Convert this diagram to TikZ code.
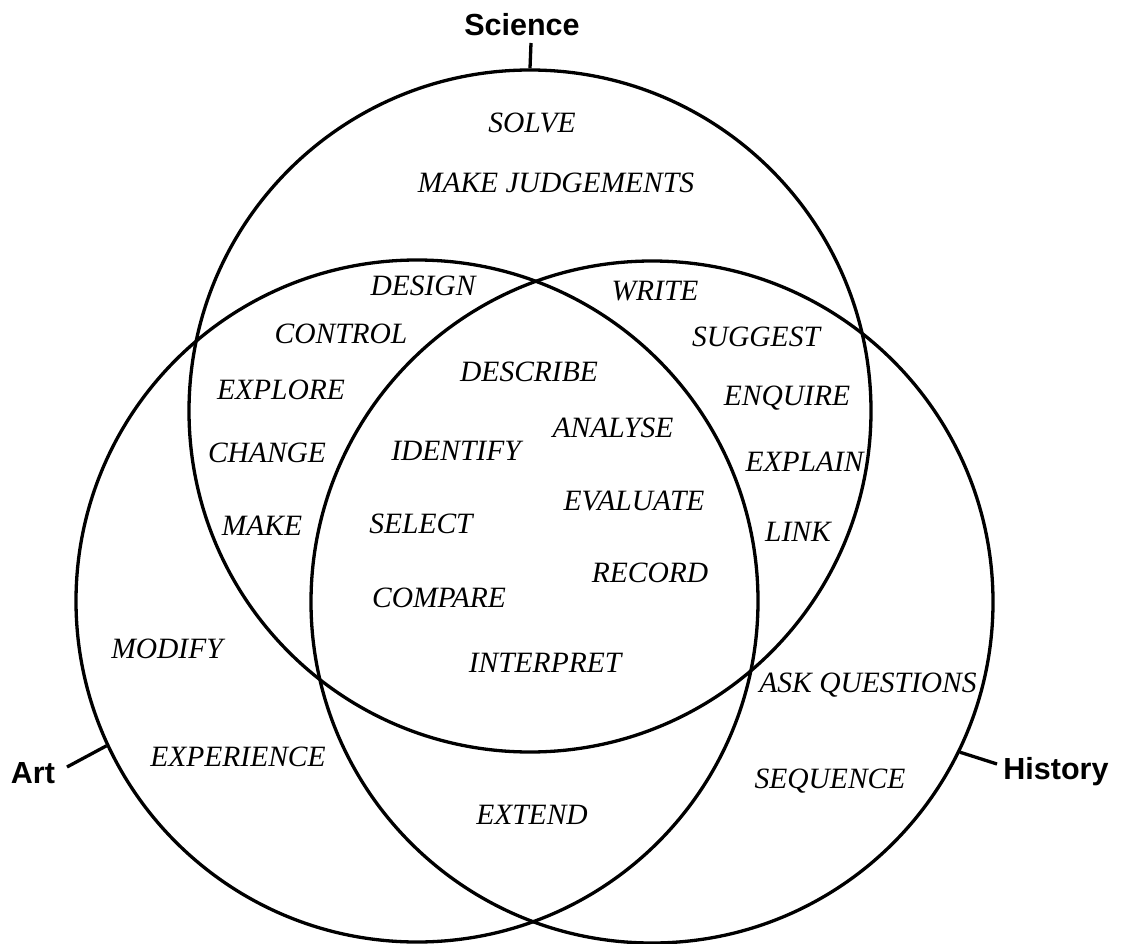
\documentclass[tikz,border=0pt]{standalone}
\usepackage{fontspec}
\setmainfont{Liberation Serif}
\newfontfamily\labelsans{Liberation Sans}
\begin{document}
\begin{tikzpicture}[x=1pt,y=-1pt,
  ring/.style={draw=black,line width=3.3pt,circle,minimum size=682pt,inner sep=0pt},
  word/.style={font=\fontsize{29.5}{32}\selectfont\itshape,inner sep=0pt,text height=19.5pt,text depth=0pt,anchor=center},
  setname/.style={font=\fontsize{30.5}{34}\selectfont\labelsans\bfseries,inner sep=0pt,text height=21.8pt,text depth=0pt,anchor=center},
  tick/.style={line width=3.3pt}]
\useasboundingbox (0,0) rectangle (1122,944);
\node[ring] (sci) at (530,411) {};
\node[ring] (art) at (417,601) {};
\node[ring] (his) at (652,602) {};
% set labels
\node[setname] (scilab) at (522,24.5) {Science};
\node[setname] (artlab) at (33,773) {Art};
\node[setname] (hislab) at (1056,769) {History};
\coordinate (sciend) at (531,43);
\coordinate (artend) at (67,767);
\coordinate (hisend) at (997,764);
\draw[tick] (sci.north) -- (sciend);
\draw[tick] (art.205) -- (artend);
\draw[tick] (his.-26) -- (hisend);
% words
\node[word] (w1) at (532,123) {SOLVE};
\node[word] (w2) at (556,183) {MAKE JUDGEMENTS};
\node[word] (w3) at (423,285.5) {DESIGN};
\node[word] (w4) at (655,291) {WRITE};
\node[word] (w5) at (341,334) {CONTROL};
\node[word] (w6) at (756,337) {SUGGEST};
\node[word] (w7) at (529,372) {DESCRIBE};
\node[word] (w8) at (281,389.5) {EXPLORE};
\node[word] (w9) at (787,395.5) {ENQUIRE};
\node[word] (w10) at (613,428) {ANALYSE};
\node[word] (w11) at (456,451) {IDENTIFY};
\node[word] (w12) at (267,453) {CHANGE};
\node[word] (w13) at (804.5,461.5) {EXPLAIN};
\node[word] (w14) at (634,501) {EVALUATE};
\node[word] (w15) at (421,524) {SELECT};
\node[word] (w16) at (262,526) {MAKE};
\node[word] (w17) at (798,532) {LINK};
\node[word] (w18) at (650,573) {RECORD};
\node[word] (w19) at (439,597.5) {COMPARE};
\node[word] (w20) at (167,649) {MODIFY};
\node[word] (w21) at (545,663) {INTERPRET};
\node[word] (w22) at (868,683) {ASK QUESTIONS};
\node[word] (w23) at (238,757) {EXPERIENCE};
\node[word] (w24) at (830,779) {SEQUENCE};
\node[word] (w25) at (532,815) {EXTEND};
\end{tikzpicture}
\end{document}
